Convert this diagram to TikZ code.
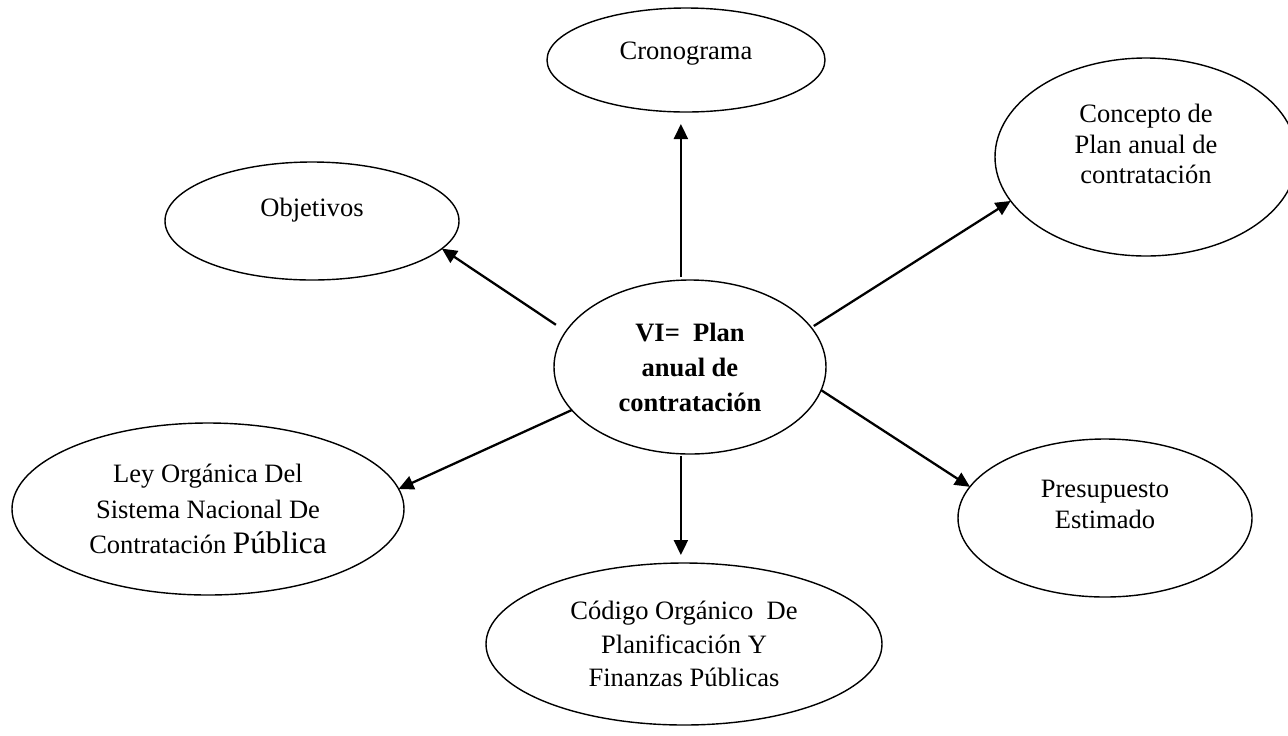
\documentclass[tikz,border=0pt]{standalone}
\usepackage{fontspec}
\setmainfont{Liberation Serif}
\usetikzlibrary{shapes.geometric,arrows.meta}
\begin{document}
\begin{tikzpicture}[x=0.02cm,y=-0.02cm,
  every node/.style={font=\fontsize{15.1pt}{19pt}\selectfont},
  oval/.style={ellipse,draw,line width=0.8pt,inner sep=0pt,outer sep=0pt,align=center},
  txt/.style={align=center,inner sep=0pt,outer sep=0pt},
  arr/.style={line width=1.3pt,-{Triangle[length=0.3cm,width=0.28cm]}}]
\useasboundingbox (0,0) rectangle (1288,735);
% ellipses
\node[oval,minimum width=278*0.02cm,minimum height=104*0.02cm] (cron) at (686,60) {};
\node[txt] (cront) at (686,54) {Cronograma};
\node[oval,minimum width=302*0.02cm,minimum height=198*0.02cm] (conc) at (1146,157) {};
\node[txt,font=\fontsize{15.1pt}{17.4pt}\selectfont] (conct) at (1146,144) {Concepto de\\Plan anual de\\contratación};
\node[oval,minimum width=294*0.02cm,minimum height=118*0.02cm] (obj) at (312,221) {};
\node[txt] (objt) at (312,210) {Objetivos};
\node[oval,minimum width=272*0.02cm,minimum height=174*0.02cm,font=\fontsize{15.1pt}{19.9pt}\selectfont\bfseries] (c) at (690,367) {VI=\ \ Plan\\anual de\\contratación};
\node[oval,minimum width=392*0.02cm,minimum height=172*0.02cm,font=\fontsize{15.1pt}{20.3pt}\selectfont] (ley) at (208,509) {Ley Orgánica Del\\Sistema Nacional De\\Contratación {\fontsize{17.8pt}{20.3pt}\selectfont Pública}};
\node[oval,minimum width=294*0.02cm,minimum height=158*0.02cm] (pres) at (1105,518) {};
\node[txt,font=\fontsize{15.1pt}{17.6pt}\selectfont] (prest) at (1105,504) {Presupuesto\\Estimado};
\node[oval,minimum width=396*0.02cm,minimum height=162*0.02cm] (cod) at (684,644) {Código Orgánico\ \ De\\Planificación Y\\Finanzas Públicas};
% connectors
\draw[arr,shorten <=3*0.02cm,shorten >=12*0.02cm] (c.96) -- (c.96 |- cron.south);
\draw[arr,shorten <=2*0.02cm,shorten >=8*0.02cm] (c.264) -- (c.264 |- cod.north);
\draw[arr,shorten <=12*0.02cm] (c.164) -- (obj.348);
\draw[arr,shorten <=3*0.02cm] (c.18.5) -- (conc.198.6);
\draw[arr] (c.200) -- (ley.6);
\draw[arr] (c.350.7) -- (pres.167.8);
\end{tikzpicture}
\end{document}
